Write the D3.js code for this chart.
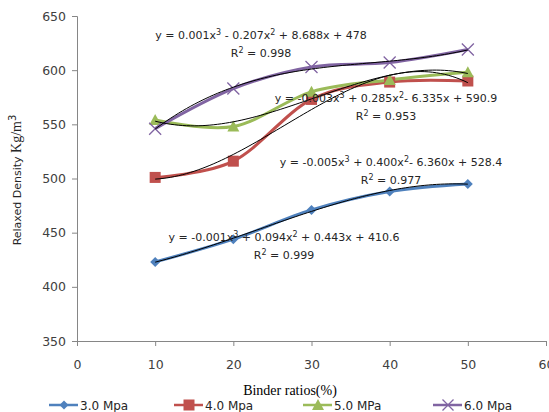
<!DOCTYPE html>
<html>
<head>
<meta charset="utf-8">
<script src="https://cdn.jsdelivr.net/npm/d3@7"></script>
<style>
  body { margin: 0; background: #fff; }
  svg { display: block; }
</style>
</head>
<body>
<div id="chart"></div>
<script>
var binder = [10, 20, 30, 40, 50];
var seriesNames = ["3.0 Mpa", "4.0 Mpa", "5.0  MPa", "6.0 Mpa"];
var mpa3 = [423, 444, 471, 488, 495];
var mpa4 = [501, 516, 573, 589, 590];
var mpa5 = [554, 548, 580, 591, 598];
var mpa6 = [546, 583, 603, 607, 619];
var xTicks = [0, 10, 20, 30, 40, 50, 60];
var yTicks = [350, 400, 450, 500, 550, 600, 650];

// trendline labels as printed on the chart
var eqLabels = [
  ["-0.001", " + 0.094", " + 0.443x + 410.6", "0.999"],
  ["-0.005", " + 0.400", "- 6.360x + 528.4", "0.977"],
  ["-0.003", " + 0.285", "- 6.335x + 590.9", "0.953"],
  ["0.001", " - 0.207", " + 8.688x + 478", "0.998"]
];

const colors = ["#4F81BD", "#C0504D", "#9BBB59", "#8064A2"];
const allSeries = [mpa3, mpa4, mpa5, mpa6];

const width = 549, height = 412;
const x = d3.scaleLinear().domain([0, 60]).range([77, 546]);
const y = d3.scaleLinear().domain([350, 650]).range([341, 16]);

const svg = d3.select("#chart").append("svg")
    .attr("width", width)
    .attr("height", height);

// axes
const axisColor = "#868686";
const xAxis = svg.append("g")
    .attr("transform", `translate(0, ${y(350)})`)
    .call(d3.axisBottom(x).tickValues(xTicks).tickSize(5).tickPadding(14));
const yAxis = svg.append("g")
    .attr("transform", `translate(${x(0)}, 0)`)
    .call(d3.axisLeft(y).tickValues(yTicks).tickSize(5).tickPadding(6));

[xAxis, yAxis].forEach(g => {
    g.select(".domain").attr("stroke", axisColor);
    g.selectAll(".tick line").attr("stroke", axisColor);
    g.selectAll(".tick text")
        .attr("fill", "#404040")
        .style("font-family", "DejaVu Sans, sans-serif")
        .style("font-size", "12.5px");
});

// cubic least squares fit for the trendlines
function cubicFit(xs, ys) {
    const n = 4;
    const A = [], b = [];
    for (let r = 0; r < n; r++) {
        A.push([]);
        for (let c = 0; c < n; c++) {
            A[r].push(d3.sum(xs, v => Math.pow(v, r + c)));
        }
        b.push(d3.sum(xs, (v, i) => ys[i] * Math.pow(v, r)));
    }
    for (let i = 0; i < n; i++) {
        let p = i;
        for (let k = i + 1; k < n; k++) if (Math.abs(A[k][i]) > Math.abs(A[p][i])) p = k;
        [A[i], A[p]] = [A[p], A[i]];
        [b[i], b[p]] = [b[p], b[i]];
        for (let k = i + 1; k < n; k++) {
            const f = A[k][i] / A[i][i];
            for (let c = i; c < n; c++) A[k][c] -= f * A[i][c];
            b[k] -= f * b[i];
        }
    }
    const coef = new Array(n).fill(0);
    for (let i = n - 1; i >= 0; i--) {
        let s = b[i];
        for (let c = i + 1; c < n; c++) s -= A[i][c] * coef[c];
        coef[i] = s / A[i][i];
    }
    return v => coef[0] + coef[1] * v + coef[2] * v * v + coef[3] * v * v * v;
}

const smooth = d3.line()
    .x(d => x(d[0]))
    .y(d => y(d[1]))
    .curve(d3.curveCatmullRom.alpha(0));

// series lines
allSeries.forEach((vals, si) => {
    svg.append("path")
        .datum(binder.map((b, i) => [b, vals[i]]))
        .attr("fill", "none")
        .attr("stroke", colors[si])
        .attr("stroke-width", 3)
        .attr("d", smooth);
});

// markers
function drawMarker(g, type, cx, cy, color, s) {
    if (type === 0) {
        g.append("path").attr("d", `M${cx},${cy - s}L${cx + s},${cy}L${cx},${cy + s}L${cx - s},${cy}Z`)
            .attr("fill", color);
    } else if (type === 1) {
        g.append("rect").attr("x", cx - s).attr("y", cy - s).attr("width", 2 * s).attr("height", 2 * s)
            .attr("fill", color);
    } else if (type === 2) {
        g.append("path").attr("d", `M${cx},${cy - s - 1}L${cx + s + 1},${cy + s}L${cx - s - 1},${cy + s}Z`)
            .attr("fill", color);
    } else {
        g.append("path").attr("d", `M${cx - s},${cy - s}L${cx + s},${cy + s}M${cx - s},${cy + s}L${cx + s},${cy - s}`)
            .attr("stroke", color).attr("stroke-width", 1.3).attr("fill", "none");
    }
}

const markerG = svg.append("g");
allSeries.forEach((vals, si) => {
    const size = [5, 5.5, 5, 6][si];
    vals.forEach((v, i) => drawMarker(markerG, si, x(binder[i]), y(v), colors[si], size));
});

// trendlines
const fitXs = d3.range(10, 50.01, 0.5);
allSeries.forEach(vals => {
    const f = cubicFit(binder, vals);
    svg.append("path")
        .datum(fitXs.map(v => [v, f(v)]))
        .attr("fill", "none")
        .attr("stroke", "#000")
        .attr("stroke-width", 1)
        .attr("d", d3.line().x(d => x(d[0])).y(d => y(d[1])));
});

// equation labels
const eqPos = [[284, 241], [391, 166], [386, 102], [261, 39]];
const eqG = svg.append("g")
    .style("font-family", "DejaVu Sans, sans-serif")
    .style("font-size", "11px")
    .attr("fill", "#262626")
    .attr("text-anchor", "middle");
eqLabels.forEach((e, i) => {
    const t = eqG.append("text").attr("x", eqPos[i][0]).attr("y", eqPos[i][1]);
    t.append("tspan").text("y = " + e[0] + "x");
    t.append("tspan").attr("dy", -4).style("font-size", "8px").text("3");
    t.append("tspan").attr("dy", 4).text(e[1] + "x");
    t.append("tspan").attr("dy", -4).style("font-size", "8px").text("2");
    t.append("tspan").attr("dy", 4).text(e[2]);
    const r = eqG.append("text").attr("x", eqPos[i][0]).attr("y", eqPos[i][1] + 18);
    r.append("tspan").text("R");
    r.append("tspan").attr("dy", -4).style("font-size", "8px").text("2");
    r.append("tspan").attr("dy", 4).text(" = " + e[3]);
});

// axis titles
svg.append("text")
    .attr("x", 290).attr("y", 395)
    .attr("text-anchor", "middle")
    .style("font-family", "Liberation Serif, serif")
    .style("font-size", "14px")
    .attr("fill", "#000")
    .text("Binder ratios(%)");

const yt = svg.append("text")
    .attr("transform", "translate(21, 180) rotate(-90)")
    .attr("text-anchor", "middle")
    .style("font-family", "DejaVu Sans, sans-serif")
    .style("font-size", "11px")
    .attr("fill", "#262626");
yt.append("tspan").text("Relaxed Density ");
yt.append("tspan").style("font-family", "Liberation Serif, serif").style("font-size", "14px").text("Kg/m");
yt.append("tspan").attr("dy", -5).style("font-size", "10px").text("3");

// legend
const legendX = [49, 174, 303, 433];
const legend = svg.append("g");
seriesNames.forEach((name, i) => {
    const lx = legendX[i], ly = 405;
    legend.append("line")
        .attr("x1", lx).attr("x2", lx + 29)
        .attr("y1", ly).attr("y2", ly)
        .attr("stroke", colors[i]).attr("stroke-width", 2.5);
    drawMarker(legend, i, lx + 15, ly, colors[i], [4.5, 5.5, 5, 5.5][i]);
    legend.append("text")
        .attr("x", lx + 31).attr("y", ly + 4.5)
        .style("font-family", "DejaVu Sans, sans-serif")
        .style("font-size", "12px")
        .attr("fill", "#262626")
        .text(name);
});
</script>
</body>
</html>
